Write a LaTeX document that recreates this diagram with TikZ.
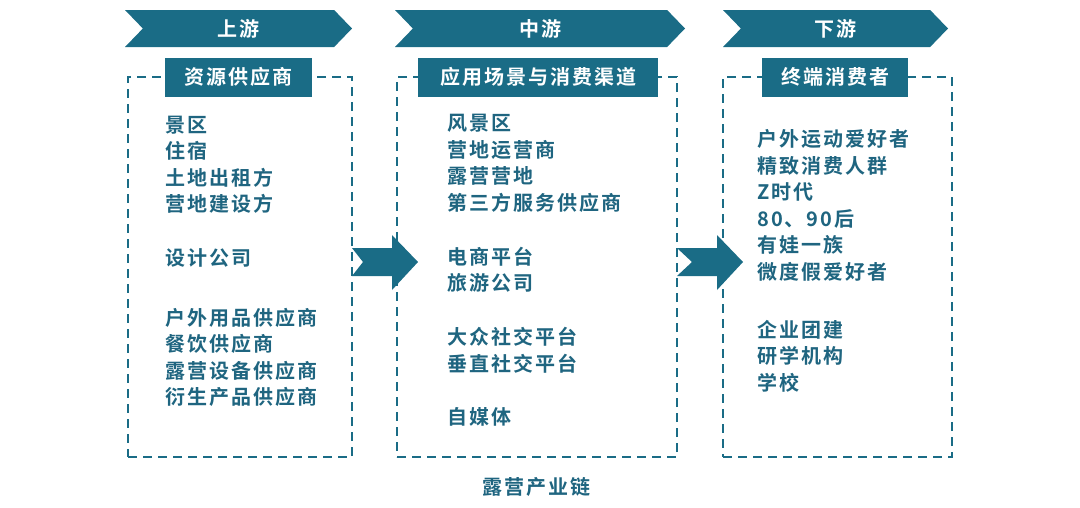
\documentclass[tikz,border=0pt]{standalone}
\usepackage{fontspec}
\newfontfamily\cjk[BoldFont={Noto Sans CJK SC Bold},LetterSpace=10]{Noto Sans CJK SC}
\usetikzlibrary{shapes.arrows,shapes.symbols}
\definecolor{teal1}{HTML}{1A6C86}
\definecolor{tealtxt}{HTML}{1F6580}
\tikzset{
  x=1pt, y=-1pt,
  chev/.style={signal, signal to=east, signal from=west, signal pointer angle=92,
    fill=teal1, draw=none, minimum height=37pt, inner sep=0pt,
    text=white, font=\cjk\bfseries\fontsize{20}{22}\selectfont},
  dbox/.style={draw=teal1, line width=2.4pt, dash pattern=on 9pt off 6pt},
  lbl/.style={fill=teal1, text=white, inner sep=0pt, minimum height=39pt,
    font=\cjk\bfseries\fontsize{20}{22}\selectfont},
  items/.style={text=tealtxt, align=left, anchor=west, inner sep=0pt,
    font=\cjk\bfseries\fontsize{20}{26.5}\selectfont},
  bigarrow/.style={fill=teal1, draw=none},
}
\begin{document}
\begin{tikzpicture}
\useasboundingbox (0,0) rectangle (1080,507);
% headers
\node[chev, minimum width=227pt] (h1) at (238.5,28.5) {上游};
\node[chev, minimum width=290pt] (h2) at (540,28.5) {中游};
\node[chev, minimum width=225pt] (h3) at (835.5,28.5) {下游};
% dashed boxes
\node[dbox, minimum width=224pt, minimum height=380pt] (b1) at (240,267) {};
\node[dbox, minimum width=280pt, minimum height=380pt] (b2) at (537,267) {};
\node[dbox, minimum width=229pt, minimum height=380pt] (b3) at (837.5,267) {};
% labels
\node[lbl, minimum width=147pt] (l1) at (238.5,77) {资源供应商};
\node[lbl, minimum width=240pt] (l2) at (538,77) {应用场景与消费渠道};
\node[lbl, minimum width=146pt] (l3) at (835,77) {终端消费者};
% big arrows
\fill[bigarrow] (352,248) -- (392,248) -- (392,235) -- (418,262) -- (392,290) -- (392,276) -- (352,276) -- (363,262) -- cycle;
\fill[bigarrow] (677,248) -- (717,248) -- (717,235) -- (743,262) -- (717,290) -- (717,276) -- (677,276) -- (692,262) -- cycle;
% column 1
\node[items] (c1a) at (165,164.5) {景区\\住宿\\土地出租方\\营地建设方};
\node[items] (c1b) at (165,258) {设计公司};
\node[items] (c1c) at (165,357.5) {户外用品供应商\\餐饮供应商\\露营设备供应商\\衍生产品供应商};
% column 2
\node[items] (c2a) at (447,163.5) {风景区\\营地运营商\\露营营地\\第三方服务供应商};
\node[items] (c2b) at (447,269.5) {电商平台\\旅游公司};
\node[items] (c2c) at (447,350) {大众社交平台\\垂直社交平台};
\node[items] (c2d) at (447,417) {自媒体};
% column 3
\node[items] (c3a) at (757,205.5) {户外运动爱好者\\精致消费人群\\Z时代\\80、90后\\有娃一族\\微度假爱好者};
\node[items] (c3b) at (757,356) {企业团建\\研学机构\\学校};
% caption
\node[items, anchor=center] (cap) at (536,487) {露营产业链};
\end{tikzpicture}
\end{document}
